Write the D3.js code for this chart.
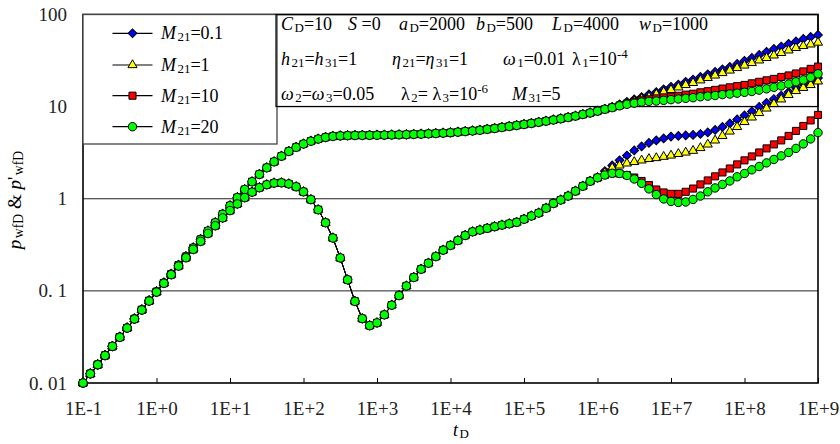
<!DOCTYPE html>
<html>
<head>
<meta charset="utf-8">
<script src="https://cdn.jsdelivr.net/npm/d3@7"></script>
<style>
  body { margin: 0; background: #fff; }
</style>
</head>
<body>
<div id="chart"></div>
<script>
// time grid: 10 points per decade from 1E-1 to 1E+9
const tMantissa = [1, 1.259, 1.585, 1.995, 2.512, 3.162, 3.981, 5.012, 6.31, 7.943];
const tDecades = [-1, 0, 1, 2, 3, 4, 5, 6, 7, 8];
const tLast = 1e9;

// pwfD, shared by all four curves up to t ~ 1E+6
const pCommon = [
  0.0100, 0.0126, 0.0158, 0.0199, 0.0250, 0.0315, 0.0396, 0.0497, 0.0624, 0.0782,
  0.098, 0.122, 0.152, 0.190, 0.236, 0.293, 0.362, 0.447, 0.55, 0.68,
  0.84, 1.03, 1.26, 1.53, 1.84, 2.17, 2.52, 2.90, 3.27, 3.62,
  3.93, 4.22, 4.45, 4.64, 4.76, 4.82, 4.85, 4.87, 4.88, 4.89,
  4.90, 4.91, 4.93, 4.95, 4.97, 5.00, 5.03, 5.07, 5.11, 5.16,
  5.22, 5.29, 5.37, 5.45, 5.55, 5.68, 5.80, 5.95, 6.10, 6.25,
  6.41, 6.58, 6.77, 6.96, 7.17, 7.39, 7.63, 7.90, 8.23, 8.55,
  8.94
];
// p'wfD, shared part
const dCommon = [
  0.0100, 0.0126, 0.0158, 0.0199, 0.0250, 0.0314, 0.0395, 0.0495, 0.0620, 0.0776,
  0.097, 0.121, 0.150, 0.186, 0.229, 0.282, 0.345, 0.420, 0.51, 0.62,
  0.745, 0.88, 1.03, 1.18, 1.32, 1.42, 1.48, 1.49, 1.45, 1.35,
  1.19, 0.98, 0.76, 0.55, 0.375, 0.228, 0.132, 0.077, 0.050, 0.042,
  0.045, 0.055, 0.070, 0.089, 0.113, 0.140, 0.172, 0.200, 0.236, 0.277,
  0.312, 0.352, 0.400, 0.438, 0.458, 0.478, 0.498, 0.518, 0.535, 0.555,
  0.60, 0.65, 0.70, 0.79, 0.89, 0.97, 1.07, 1.21, 1.37, 1.55,
  1.69
];

// late-time parts, one per M21
const pTail01 = [9.37, 9.9, 10.6, 11.3, 12.0, 12.7, 13.6, 14.4, 15.4, 16.4, 17.4, 18.6, 19.7, 21.0, 22.4,
  23.8, 25.4, 27.0, 29.1, 31.4, 33.8, 36.4, 39.3, 42.3, 45.0, 48.0, 51.0, 54.3, 57.1, 60.0];
const pTail1 = [9.37, 9.8, 10.3, 10.8, 11.5, 12.1, 12.7, 13.6, 14.4, 15.2, 16.2, 17.2, 18.1, 19.3, 20.5,
  21.8, 23.2, 24.7, 26.3, 28.0, 29.8, 31.8, 33.8, 36.0, 38.3, 40.8, 43.4, 45.6, 47.4, 49.6];
const pTail10 = [9.37, 9.8, 10.3, 10.8, 11.3, 11.7, 12.0, 12.3, 12.6, 12.8, 13.1, 13.5, 13.8, 14.3, 14.7,
  15.2, 15.7, 16.2, 16.7, 17.2, 17.9, 18.6, 19.3, 20.0, 21.0, 21.8, 22.9, 24.1, 25.7, 27.2];
const pTail20 = [9.37, 9.75, 10.2, 10.6, 10.9, 11.2, 11.4, 11.5, 11.7, 11.9, 12.1, 12.3, 12.5, 12.8, 13.0,
  13.2, 13.5, 13.7, 14.0, 14.3, 14.6, 15.1, 15.6, 16.2, 16.8, 17.6, 18.6, 19.5, 20.8, 22.7];

const dTail01 = [2.00, 2.30, 2.61, 2.95, 3.35, 3.70, 4.04, 4.30, 4.52, 4.73, 4.81, 4.87, 4.93, 5.05, 5.25,
  5.59, 6.02, 6.57, 7.26, 8.03, 8.87, 9.93, 11.0, 12.1, 13.2, 14.4, 16.0, 17.6, 19.0, 20.5];
const dTail1 = [1.91, 2.16, 2.30, 2.42, 2.51, 2.61, 2.71, 2.77, 2.86, 2.95, 3.07, 3.18, 3.32, 3.56, 3.89,
  4.30, 4.81, 5.38, 6.02, 6.82, 7.64, 8.54, 9.56, 10.7, 12.0, 13.4, 14.8, 16.0, 17.2, 18.8];
const dTail10 = [1.81, 1.89, 1.88, 1.81, 1.70, 1.56, 1.41, 1.26, 1.17, 1.13, 1.13, 1.19, 1.29, 1.43, 1.58,
  1.75, 1.93, 2.13, 2.36, 2.61, 2.88, 3.18, 3.52, 3.89, 4.30, 4.81, 5.45, 6.17, 7.08, 8.13];
const dTail20 = [1.81, 1.89, 1.88, 1.79, 1.64, 1.47, 1.28, 1.11, 0.995, 0.935, 0.912, 0.923, 0.983, 1.07, 1.19,
  1.31, 1.43, 1.56, 1.73, 1.88, 2.06, 2.24, 2.45, 2.67, 2.92, 3.18, 3.52, 3.94, 4.46, 5.22];

const seriesLabels = ["0.1", "1", "10", "20"];
const yTicks = [0.01, 0.1, 1, 10, 100];
const yTickLabels = ["0. 01", "0. 1", "1", "10", "100"];
const xTicks = [1e-1, 1e0, 1e1, 1e2, 1e3, 1e4, 1e5, 1e6, 1e7, 1e8, 1e9];
const xTickLabels = ["1E-1", "1E+0", "1E+1", "1E+2", "1E+3", "1E+4", "1E+5", "1E+6", "1E+7", "1E+8", "1E+9"];

const times = tDecades.flatMap(e => tMantissa.map(m => m * Math.pow(10, e))).concat([tLast]);

const serif = "'Liberation Serif', 'Times New Roman', serif";
const width = 840, height = 444;
const plot = { left: 83, right: 818, top: 14.5, bottom: 383 };

const styles = [
  { fill: "#0000ff", shape: "diamond", p: pTail01, d: dTail01 },
  { fill: "#ffff00", shape: "triangle", p: pTail1, d: dTail1 },
  { fill: "#ff0000", shape: "square", p: pTail10, d: dTail10 },
  { fill: "#00ff00", shape: "circle", p: pTail20, d: dTail20 }
];

const svg = d3.select("#chart").append("svg")
  .attr("width", width)
  .attr("height", height);

const xScale = d3.scaleLog().domain([0.1, 1e9]).range([plot.left, plot.right]);
const yScale = d3.scaleLog().domain([0.01, 100]).range([plot.bottom, plot.top]);

function markerPath(shape) {
  if (shape === "diamond") return d3.symbol(d3.symbolSquare, 38)();
  if (shape === "triangle") return d3.symbol(d3.symbolTriangle, 36)();
  if (shape === "square") return d3.symbol(d3.symbolSquare, 50)();
  return d3.symbol(d3.symbolCircle, 56)();
}
function markerTransform(shape, px, py) {
  return shape === "diamond"
    ? `translate(${px},${py}) rotate(45)`
    : `translate(${px},${py})`;
}

// text with italic / subscript / superscript parts
function richText(g, xPos, yPos, parts, size) {
  const t = g.append("text")
    .attr("x", xPos)
    .attr("y", yPos)
    .attr("font-family", serif)
    .attr("font-size", size)
    .attr("fill", "#000");
  let shift = 0;
  parts.forEach(([str, kind]) => {
    const target = kind === "sub" ? 2 : kind === "sup" ? -7 : 0;
    t.append("tspan")
      .attr("dy", target - shift)
      .attr("dx", kind === "sub" ? 1.5 : 0)
      .attr("font-size", kind === "sub" || kind === "sup" ? size * 0.72 : size)
      .attr("font-style", kind === "it" ? "italic" : "normal")
      .text(str);
    shift = target;
  });
  return t;
}

// gridlines
svg.append("g")
  .selectAll("line")
  .data([10, 1, 0.1])
  .join("line")
  .attr("x1", plot.left)
  .attr("x2", plot.right)
  .attr("y1", d => yScale(d))
  .attr("y2", d => yScale(d))
  .attr("stroke", "#222")
  .attr("stroke-width", 1);

// x axis (inner ticks)
const xAxis = svg.append("g")
  .attr("transform", `translate(0,${plot.bottom})`)
  .call(d3.axisBottom(xScale)
    .tickValues(xTicks)
    .tickSizeInner(-5)
    .tickSizeOuter(0)
    .tickPadding(19)
    .tickFormat((d, i) => xTickLabels[i]));
xAxis.select(".domain").remove();
xAxis.selectAll("line").attr("stroke", "#000");
xAxis.selectAll("text")
  .attr("font-family", serif)
  .attr("font-size", 19)
  .attr("fill", "#222");

// y axis
const yAxis = svg.append("g")
  .attr("transform", `translate(${plot.left},0)`)
  .call(d3.axisLeft(yScale)
    .tickValues(yTicks)
    .tickSize(0)
    .tickPadding(16)
    .tickFormat((d, i) => yTickLabels[i]));
yAxis.select(".domain").remove();
yAxis.selectAll("text")
  .attr("font-family", serif)
  .attr("font-size", 19)
  .attr("fill", "#222");

// plot frame
svg.append("rect")
  .attr("x", plot.left)
  .attr("y", plot.top)
  .attr("width", plot.right - plot.left)
  .attr("height", plot.bottom - plot.top)
  .attr("fill", "none")
  .attr("stroke", "#000")
  .attr("stroke-width", 1.6);

// legend box
const legend = svg.append("g");
legend.append("rect")
  .attr("x", plot.left)
  .attr("y", plot.top)
  .attr("width", 194)
  .attr("height", 129.5)
  .attr("fill", "#fff")
  .attr("stroke", "#444")
  .attr("stroke-width", 1.3);

const legendRows = [33.3, 65, 95.7, 126.7];
seriesLabels.forEach((lab, i) => {
  const ry = legendRows[i];
  legend.append("line")
    .attr("x1", 112.5).attr("x2", 152.5)
    .attr("y1", ry).attr("y2", ry)
    .attr("stroke", "#000").attr("stroke-width", 1.2);
  legend.append("path")
    .attr("d", markerPath(styles[i].shape))
    .attr("transform", markerTransform(styles[i].shape, 132.5, ry))
    .attr("fill", styles[i].fill)
    .attr("stroke", "#000")
    .attr("stroke-width", 1);
  richText(legend, 161, ry + 6, [["M", "it"], ["21", "sub"], ["=" + lab, "n"]], 18);
});

// parameter box
const note = svg.append("g");
note.append("rect")
  .attr("x", 276)
  .attr("y", plot.top)
  .attr("width", plot.right - 276)
  .attr("height", 106.5 - plot.top)
  .attr("fill", "none")
  .attr("stroke", "#000")
  .attr("stroke-width", 1.2);

const noteLines = [
  { y: 30, groups: [
    [281, [["C", "it"], ["D", "sub"], ["=10", "n"]]],
    [348, [["S", "it"], [" =0", "n"]]],
    [399, [["a", "it"], ["D", "sub"], ["=2000", "n"]]],
    [476, [["b", "it"], ["D", "sub"], ["=500", "n"]]],
    [552, [["L", "it"], ["D", "sub"], ["=4000", "n"]]],
    [639, [["w", "it"], ["D", "sub"], ["=1000", "n"]]]
  ]},
  { y: 65, groups: [
    [281, [["h", "it"], ["21", "sub"], ["=", "n"], ["h", "it"], ["31", "sub"], ["=1", "n"]]],
    [392, [["η", "it"], ["21", "sub"], ["=", "n"], ["η", "it"], ["31", "sub"], ["=1", "n"]]],
    [503, [["ω", "it"], ["1", "sub"], ["=0.01", "n"]]],
    [572, [["λ", "n"], ["1", "sub"], ["=10", "n"], ["-4", "sup"]]]
  ]},
  { y: 100, groups: [
    [281, [["ω", "it"], ["2", "sub"], ["=", "n"], ["ω", "it"], ["3", "sub"], ["=0.05", "n"]]],
    [401, [["λ", "n"], ["2", "sub"], ["= ", "n"], ["λ", "n"], ["3", "sub"], ["=10", "n"], ["-6", "sup"]]],
    [512, [["M", "it"], ["31", "sub"], ["=5", "n"]]]
  ]}
];
noteLines.forEach(line => {
  line.groups.forEach(([gx, parts]) => richText(note, gx, line.y, parts, 18));
});

// curves
const lineGen = d3.line()
  .x(d => xScale(d.t))
  .y(d => yScale(d.v));

const curves = svg.append("g");
styles.forEach(s => {
  const pVals = pCommon.concat(s.p);
  const dVals = dCommon.concat(s.d);
  [pVals, dVals].forEach(vals => {
    const pts = vals.map((v, i) => ({ t: times[i], v: v }));
    curves.append("path")
      .datum(pts)
      .attr("d", lineGen)
      .attr("fill", "none")
      .attr("stroke", "#000")
      .attr("stroke-width", 1);
    curves.append("g")
      .selectAll("path")
      .data(pts)
      .join("path")
      .attr("d", markerPath(s.shape))
      .attr("transform", d => markerTransform(s.shape, xScale(d.t), yScale(d.v)))
      .attr("fill", s.fill)
      .attr("stroke", "#000")
      .attr("stroke-width", 1);
  });
});

// axis titles
richText(svg, 453, 436, [["t", "it"], ["D", "sub"]], 18);

const yTitle = svg.append("g").attr("transform", "translate(21,200) rotate(-90)");
richText(yTitle, 0, 0, [["p", "it"], ["wfD", "sub"], [" & ", "n"], ["p", "it"], ["'", "n"], ["wfD", "sub"]], 19)
  .attr("text-anchor", "middle");
</script>
</body>
</html>
